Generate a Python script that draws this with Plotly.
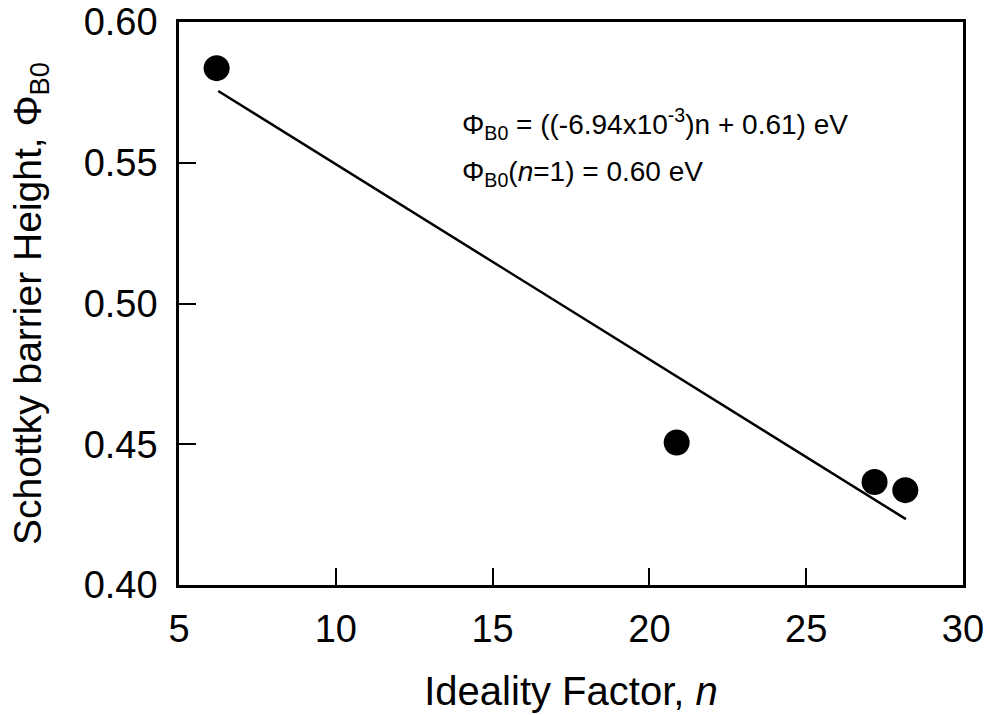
import plotly.graph_objects as go

# Data
ideality_n = [6.20, 20.87, 27.18, 28.16]
barrier_height = [0.5836, 0.4506, 0.4366, 0.4337]

fit_n = [6.25, 28.18]
fit_phi = [0.5755, 0.4234]

x_ticks = [5, 10, 15, 20, 25, 30]
y_ticks = [0.40, 0.45, 0.50, 0.55, 0.60]
y_tick_labels = ["0.40", "0.45", "0.50", "0.55", "0.60"]

FONT = "Liberation Sans, Arial, sans-serif"

fig = go.Figure()
fig.add_trace(go.Scatter(x=fit_n, y=fit_phi, mode="lines",
                         line=dict(color="black", width=2.5), showlegend=False))
fig.add_trace(go.Scatter(x=ideality_n, y=barrier_height, mode="markers",
                         marker=dict(color="black", size=26), showlegend=False))

fig.add_annotation(x=0.358, y=0.818, xref="paper", yref="paper",
                   xanchor="left", yanchor="middle", showarrow=False,
                   text="Φ<sub>B0</sub> = ((-6.94x10<sup>-3</sup>)n + 0.61) eV",
                   font=dict(family=FONT, size=28, color="black"))
fig.add_annotation(x=0.358, y=0.731, xref="paper", yref="paper",
                   xanchor="left", yanchor="middle", showarrow=False,
                   text="Φ<sub>B0</sub>(<i>n</i>=1) = 0.60 eV",
                   font=dict(family=FONT, size=28, color="black"))

fig.update_layout(
    width=991, height=715,
    margin=dict(l=179, r=28, t=22, b=130),
    paper_bgcolor="white", plot_bgcolor="white",
    font=dict(family=FONT, color="black"),
    xaxis=dict(range=[5, 30], tickvals=x_ticks, ticks="inside", ticklen=17,
               tickwidth=2, tickcolor="black", showline=True, linewidth=2.5,
               linecolor="black", mirror=True, showgrid=False, zeroline=False,
               automargin=False, ticklabelstandoff=9, ticklabeloverflow="allow",
               tickfont=dict(size=38, family=FONT),
               title=dict(text="Ideality Factor, <i>n</i>",
                          font=dict(size=40, family=FONT), standoff=28)),
    yaxis=dict(range=[0.40, 0.60], tickvals=y_ticks, ticktext=y_tick_labels,
               ticks="inside", ticklen=17, tickwidth=2, tickcolor="black",
               showline=True, linewidth=2.5, linecolor="black", mirror=True,
               showgrid=False, zeroline=False, automargin=False,
               ticklabelstandoff=11, ticklabeloverflow="allow",
               tickfont=dict(size=38, family=FONT),
               title=dict(text="Schottky barrier Height, Φ<sub>B0</sub>",
                          font=dict(size=39, family=FONT), standoff=31)),
)

# remove the browser's default 8px body margin so the figure fills the window
fig.write_html("out.html",
               config={"displayModeBar": False},
               post_script="document.body.style.margin='0';document.body.style.overflow='hidden';")
